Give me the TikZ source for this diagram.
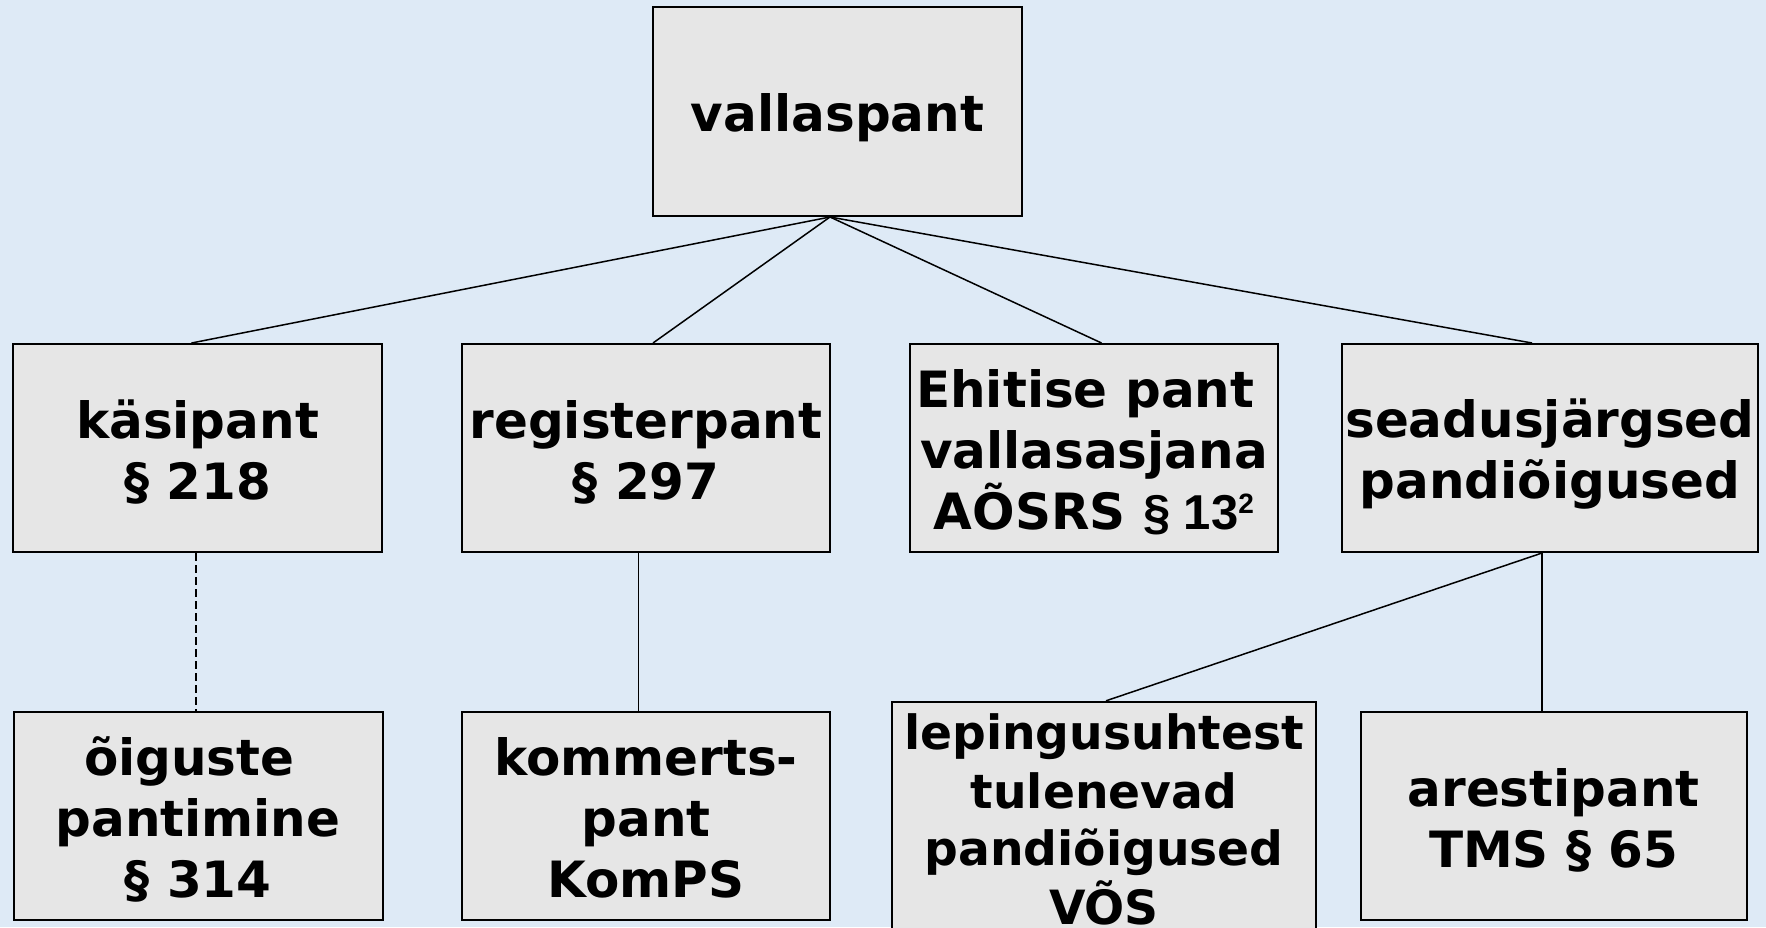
\documentclass[tikz,border=0pt]{standalone}
\usepackage{fontspec}
\setmainfont{DejaVu Sans}
\newfontfamily\arialfont{Liberation Sans}
\usetikzlibrary{calc}
\definecolor{bgblue}{RGB}{222,234,246}
\definecolor{boxgray}{RGB}{230,230,230}
\newcommand{\ms}{\rule[-0.164em]{0pt}{1.164em}}
\begin{document}
\begin{tikzpicture}[x=0.5pt,y=-0.5pt,
  box/.style={draw=black, line width=1pt, fill=boxgray, rectangle, inner sep=0pt, align=center,
    font=\bfseries\fontsize{25}{30.5}\selectfont},
  smallbox/.style={box, font=\bfseries\fontsize{23.6}{28.35}\selectfont},
  link/.style={draw=black, line width=0.75pt},
  dashlink/.style={link, dash pattern=on 4pt off 2pt}]
\fill[bgblue] (0,0) rectangle (1766,927);
\useasboundingbox (0,0) rectangle (1766,927);

% top
\node[box, minimum width=184.5pt, minimum height=104.5pt] (vp) at (837.5,111.5) {\ms vallaspant};

% row 2
\node[box, minimum width=184.5pt, minimum height=104pt] (kp) at (197.5,448) {\ms käsipant\\\ms § 218};
\node[box, minimum width=184pt, minimum height=104pt] (rp) at (646,448) {\ms registerpant\\\ms § 297};
\node[box, minimum width=184.3pt, minimum height=104pt] (eh) at (1094,448)
  {\ms Ehitise pant\kern0.35em\\\ms vallasasjana\\\ms AÕSRS {\arialfont\fontsize{24.5}{30}\selectfont § 13\raisebox{8pt}{\fontsize{14}{14}\selectfont 2}}};
\node[box, minimum width=208.3pt, minimum height=104pt] (sj) at (1550,448) {\ms seadusjärgsed\\\ms pandiõigused};

% row 3
\node[box, minimum width=184.5pt, minimum height=104pt] (oi) at (198,816) {\ms õiguste\kern0.35em\\\ms pantimine\\\ms § 314};
\node[box, minimum width=184pt, minimum height=104pt] (ko) at (646,816) {\ms kommerts-\\\ms pant\\\ms KomPS};
\node[smallbox, minimum width=212pt, minimum height=113pt] (le) at (1104,817)
  {\ms lepingusuhtest\\\ms tulenevad\\\ms pandiõigused\\\ms VÕS};
\node[box, minimum width=193pt, minimum height=104pt] (ar) at (1553.7,816) {\ms arestipant\\\ms TMS § 65};

% connectors
\coordinate (vpc) at ($(vp.south)+(-7.5,0)$);
\draw[link] (vpc) -- ($(kp.north)+(-6,0)$);
\draw[link] (vpc) -- ($(rp.north)+(7,0)$);
\draw[link] (vpc) -- ($(eh.north)+(7.5,0)$);
\draw[link] (vpc) -- ($(sj.north)+(-18,0)$);

\draw[dashlink] ($(kp.south)+(-1.5,0)$) -- ($(oi.north)+(-2,0)$);
\draw[link] ($(rp.south)+(-7.7,0)$) -- ($(ko.north)+(-7.7,0)$);
\coordinate (sjc) at ($(sj.south)+(-8,0)$);
\draw[link] (sjc) -- ($(le.north)+(2,0)$);
\draw[link] (sjc) -- ($(ar.north)+(-11.7,0)$);
\end{tikzpicture}
\end{document}
